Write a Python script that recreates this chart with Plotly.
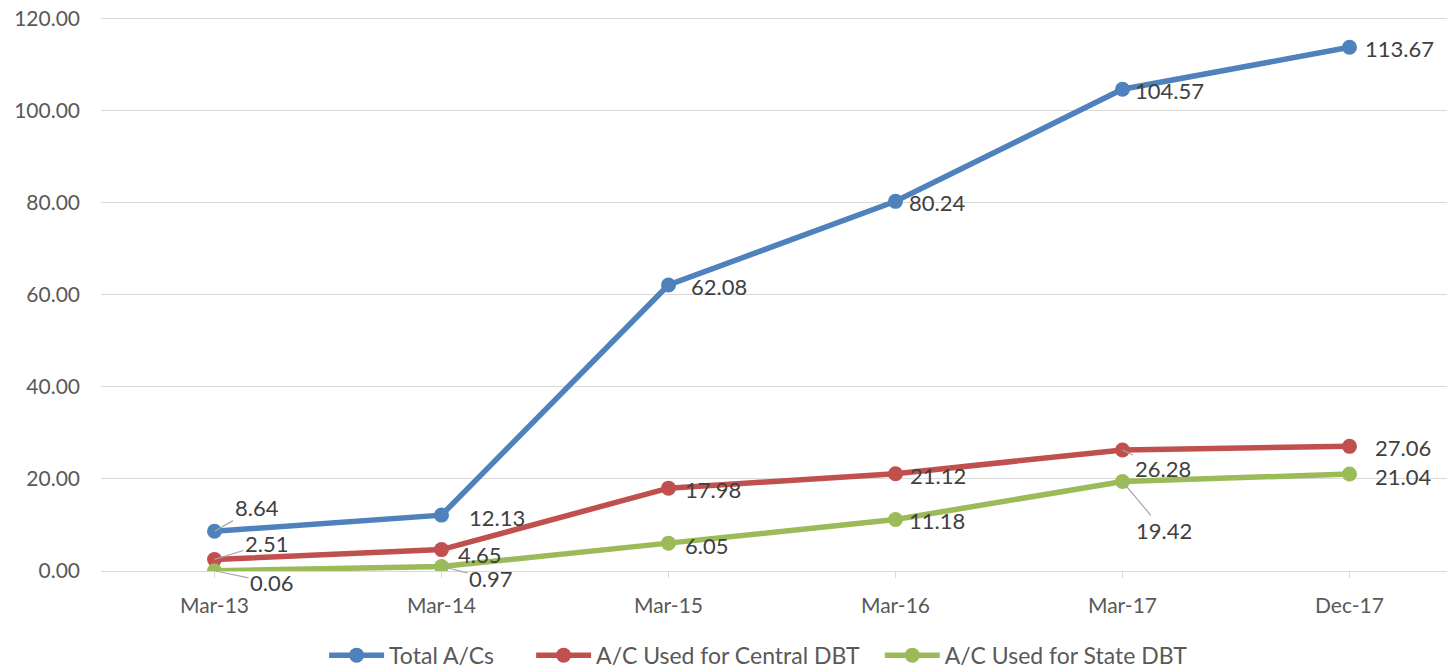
import plotly.graph_objects as go

categories = ["Mar-13", "Mar-14", "Mar-15", "Mar-16", "Mar-17", "Dec-17"]
total_acs = [8.64, 12.13, 62.08, 80.24, 104.57, 113.67]
central_dbt = [2.51, 4.65, 17.98, 21.12, 26.28, 27.06]
state_dbt = [0.06, 0.97, 6.05, 11.18, 19.42, 21.04]
y_ticks = [0, 20, 40, 60, 80, 100, 120]

series = [
    ("Total A/Cs", total_acs, "#4F81BD"),
    ("A/C Used for Central DBT", central_dbt, "#C0504D"),
    ("A/C Used for State DBT", state_dbt, "#9BBB59"),
]

FONT = "Lato, 'Open Sans', sans-serif"
legend_ids = ["legend", "legend2", "legend3"]
legend_x = [0.1638, 0.3158, 0.5718]

fig = go.Figure()
for (name, vals, col), lid in zip(series, legend_ids):
    fig.add_trace(go.Scatter(
        x=list(range(len(categories))), y=vals, name=name,
        mode="lines+markers",
        line=dict(color=col, width=5.5),
        marker=dict(color=col, size=15),
        legend=lid,
    ))

# label placement: (dx, dy, leader) in pixels; dy positive = down
total_pos = [(42, -24, True), (25, 2, False), (20, 2, False), (11, 1, False), (10, 1, False), (13, 1, False)]
central_pos = [(52, -16, True), (14, 5, False), (14, 1, False), (12, 2, False), (40, 19, True), (23, 1, False)]
state_pos = [(57, 12, True), (49, 12, True), (14, 2, False), (11, 1, False), (41, 49, True), (23, 2, False)]

annotations = []
for (name, vals, col), pos in zip(series, [total_pos, central_pos, state_pos]):
    for i, v in enumerate(vals):
        dx, dy, leader = pos[i]
        txt = f"{v:.2f}"
        if leader:
            annotations.append(dict(
                x=i, y=v, xref="x", yref="y", text=txt,
                showarrow=True, arrowhead=0, arrowwidth=1.2, arrowcolor="#A6A6A6",
                ax=dx, ay=dy, standoff=0,
                font=dict(family=FONT, size=22, color="#404040"),
            ))
        else:
            annotations.append(dict(
                x=i, y=v, xref="x", yref="y", text=txt,
                showarrow=False, xanchor="left", yanchor="middle",
                xshift=dx, yshift=-dy,
                font=dict(family=FONT, size=22, color="#404040"),
            ))

legend_common = dict(orientation="h", xanchor="left", y=-0.152, yanchor="middle",
                     font=dict(family=FONT, size=23, color="#595959"),
                     itemwidth=55, bgcolor="rgba(0,0,0,0)")

fig.update_layout(
    width=1455, height=669,
    margin=dict(l=93, r=0, t=9, b=104),
    paper_bgcolor="white", plot_bgcolor="white",
    font=dict(family=FONT, size=21, color="#595959"),
    showlegend=True,
    legend=dict(x=legend_x[0], **legend_common),
    legend2=dict(x=legend_x[1], **legend_common),
    legend3=dict(x=legend_x[2], **legend_common),
    annotations=annotations,
)
fig.update_xaxes(
    tickmode="array", tickvals=list(range(len(categories))), ticktext=categories,
    range=[-0.5, 5.5], showgrid=False, zeroline=False, automargin=False,
    showline=False, ticks="outside", tickson="boundaries", ticklen=6,
    ticklabelstandoff=10, ticklabeloverflow="allow",
    tickcolor="#D9D9D9", tickfont=dict(family=FONT, size=21, color="#595959"),
)
fig.update_yaxes(
    range=[0, 120.25], tickvals=y_ticks, tickformat=".2f", automargin=False,
    showgrid=True, gridcolor="#D9D9D9", gridwidth=1.3,
    zeroline=True, zerolinecolor="#D9D9D9", zerolinewidth=1.3,
    showline=False, ticklabelstandoff=20, ticklabeloverflow="allow",
    tickfont=dict(family=FONT, size=21, color="#595959"),
)

fig.write_html("out.html", config={"displayModeBar": False})
